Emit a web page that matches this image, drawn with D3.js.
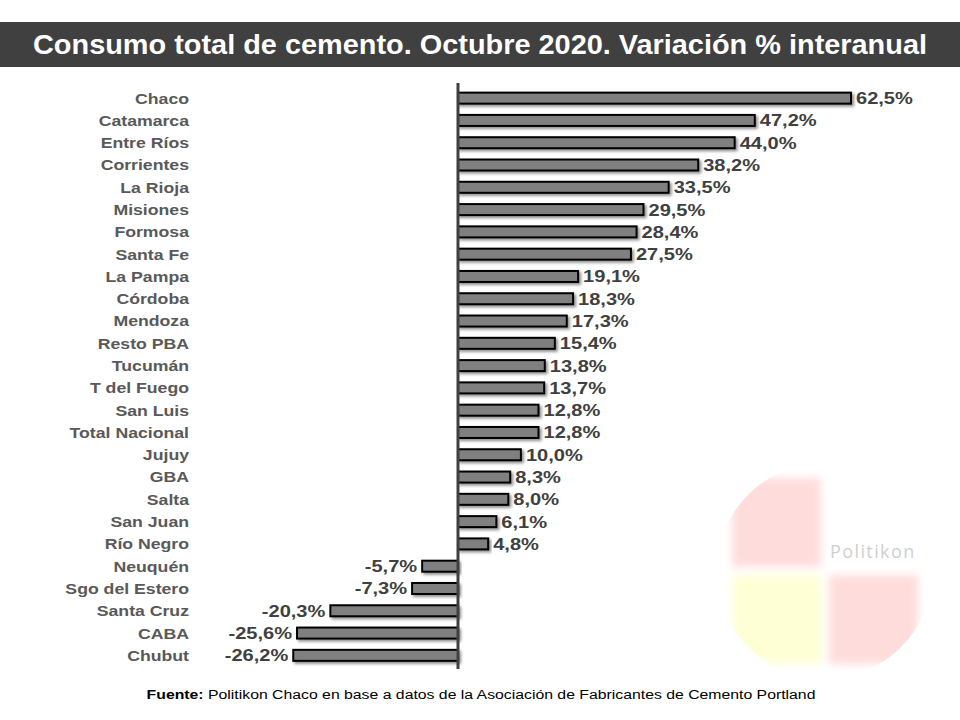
<!DOCTYPE html>
<html>
<head>
<meta charset="utf-8">
<script src="https://cdn.jsdelivr.net/npm/d3@7"></script>
<style>
  body { margin: 0; background: #fff; }
  svg { display: block; }
</style>
</head>
<body>
<div id="chart"></div>
<script>
const provincias = ['Chaco', 'Catamarca', 'Entre Ríos', 'Corrientes', 'La Rioja', 'Misiones',
    'Formosa', 'Santa Fe', 'La Pampa', 'Córdoba', 'Mendoza', 'Resto PBA', 'Tucumán',
    'T del Fuego', 'San Luis', 'Total Nacional', 'Jujuy', 'GBA', 'Salta', 'San Juan',
    'Río Negro', 'Neuquén', 'Sgo del Estero', 'Santa Cruz', 'CABA', 'Chubut'];
const variacion = [62.5, 47.2, 44.0, 38.2, 33.5, 29.5, 28.4, 27.5, 19.1, 18.3, 17.3, 15.4, 13.8,
    13.7, 12.8, 12.8, 10.0, 8.3, 8.0, 6.1, 4.8, -5.7, -7.3, -20.3, -25.6, -26.2];

const width = 960, height = 720;
const fuenteTxt = 'Liberation Sans, Arial, sans-serif';
const svg = d3.select('#chart').append('svg')
    .attr('width', width)
    .attr('height', height);

const defs = svg.append('defs');
defs.append('filter').attr('id', 'sombra')
    .attr('x', '-10%').attr('y', '-50%').attr('width', '120%').attr('height', '220%')
    .append('feDropShadow')
    .attr('dx', 2).attr('dy', 2).attr('stdDeviation', 1.5)
    .attr('flood-color', '#000').attr('flood-opacity', 0.45);
defs.append('filter').attr('id', 'difuso')
    .attr('x', '-20%').attr('y', '-20%').attr('width', '140%').attr('height', '140%')
    .append('feGaussianBlur').attr('stdDeviation', 4);
defs.append('clipPath').attr('id', 'circulo')
    .append('circle').attr('cx', 824.5).attr('cy', 571).attr('r', 108);

// logo de fondo
const logo = svg.append('g').attr('clip-path', 'url(#circulo)');
const cuadros = logo.append('g').attr('filter', 'url(#difuso)');
[[732, 478, '#ffdcdc'], [732, 575, '#ffffd6'], [829, 575, '#ffdcdc']].forEach(([x, y, c]) => {
    cuadros.append('rect').attr('x', x).attr('y', y).attr('width', 89).attr('height', 89).attr('fill', c);
});
svg.append('text')
    .attr('x', 830).attr('y', 558)
    .attr('font-family', 'Open Sans, sans-serif')
    .attr('font-size', 18)
    .attr('letter-spacing', 1.4)
    .attr('fill', '#cfcfcf')
    .text('Politikon');

// titulo
svg.append('rect')
    .attr('x', 0).attr('y', 22).attr('width', width).attr('height', 45)
    .attr('fill', '#404040');
svg.append('text')
    .attr('transform', 'translate(480,54) scale(1.07,1)')
    .attr('text-anchor', 'middle')
    .attr('font-family', fuenteTxt)
    .attr('font-weight', 'bold')
    .attr('font-size', 27)
    .attr('fill', '#fff')
    .text('Consumo total de cemento. Octubre 2020. Variación % interanual');

const x = d3.scaleLinear().domain([0, 62.5]).range([458, 851]);
const y = d3.scaleBand().domain(provincias).range([87, 666.5]).paddingInner(0.5).paddingOuter(0.25);

const fmt = v => d3.format('.1f')(v).replace('.', ',').replace('−', '-') + '%';

const bars = svg.append('g');
bars.selectAll('rect')
    .data(variacion)
    .join('rect')
    .attr('x', d => Math.min(x(0), x(d)))
    .attr('y', (d, i) => y(provincias[i]) + y.bandwidth() / 2 - 5.5)
    .attr('width', d => Math.abs(x(d) - x(0)))
    .attr('height', 11)
    .attr('fill', '#808080')
    .attr('stroke', '#000')
    .attr('stroke-width', 2)
    .attr('filter', 'url(#sombra)');

svg.append('g').selectAll('text')
    .data(variacion)
    .join('text')
    .attr('transform', (d, i) => {
        const tx = d >= 0 ? x(d) + 5 : x(d) - 5;
        const ty = y(provincias[i]) + y.bandwidth() / 2 + 6;
        return `translate(${tx},${ty}) scale(1.18,1)`;
    })
    .attr('text-anchor', d => d >= 0 ? 'start' : 'end')
    .attr('font-family', fuenteTxt)
    .attr('font-weight', 'bold')
    .attr('font-size', 17)
    .attr('fill', '#404040')
    .text(fmt);

const yAxis = svg.append('g')
    .attr('transform', 'translate(189,0)')
    .call(d3.axisLeft(y).tickSize(0).tickPadding(0));
yAxis.select('.domain').remove();
yAxis.selectAll('text')
    .attr('font-family', fuenteTxt)
    .attr('font-weight', 'bold')
    .attr('font-size', 15.5)
    .attr('fill', '#595959')
    .attr('dy', '0.35em')
    .attr('transform', 'scale(1.14,1)');

svg.append('line')
    .attr('x1', x(0)).attr('x2', x(0))
    .attr('y1', 83).attr('y2', 669)
    .attr('stroke', '#404040')
    .attr('stroke-width', 3);

// fuente
const fuente = svg.append('text')
    .attr('transform', 'translate(481,699) scale(1.17,1)')
    .attr('text-anchor', 'middle')
    .attr('font-family', fuenteTxt)
    .attr('font-size', 13.5)
    .attr('fill', '#000');
fuente.append('tspan').attr('font-weight', 'bold').text('Fuente:');
fuente.append('tspan').text(' Politikon Chaco en base a datos de la Asociación de Fabricantes de Cemento Portland');
</script>
</body>
</html>
